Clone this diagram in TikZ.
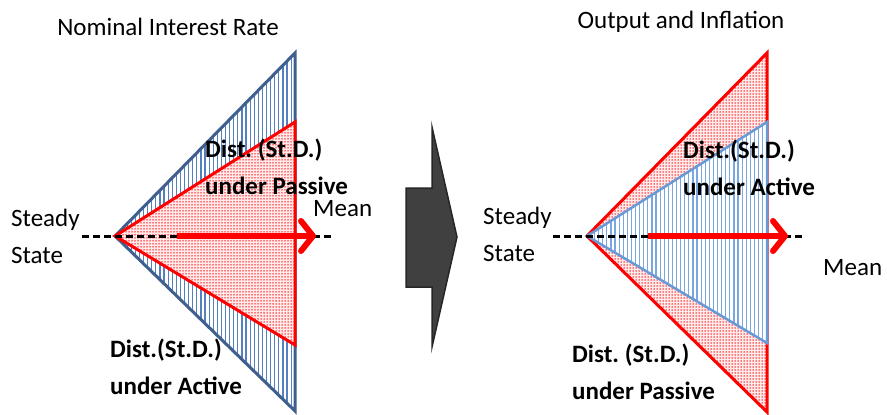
\documentclass[tikz,border=0pt]{standalone}
\usepackage{fontspec}
\setmainfont{Carlito}
\usetikzlibrary{arrows.meta, patterns.meta}
\definecolor{edgeblue}{HTML}{3F5F8E}
\definecolor{lineblue}{HTML}{5580C0}
\definecolor{edgelight}{HTML}{6A9AD6}
\definecolor{linelight}{HTML}{7AA6E2}
\definecolor{bigarrow}{HTML}{404040}
\frenchspacing

\begin{document}
\begin{tikzpicture}[
        x=1pt, y=-1pt,
        title/.style={font=\fontsize{25}{30}\selectfont, inner sep=0pt},
        lbl/.style={font=\fontsize{25}{37}\selectfont, align=left, inner sep=0pt, anchor=west},
        dist/.style={lbl, font=\fontsize{25}{37}\selectfont\bfseries},
        hatchdark/.style={draw=edgeblue, line width=3pt, preaction={fill=white}, pattern={Lines[angle=90, distance=4.1pt, line width=1.2pt]}, pattern color=lineblue},
        hatchlight/.style={draw=edgelight, line width=2.5pt, preaction={fill=white}, pattern={Lines[angle=90, distance=4.1pt, line width=1.2pt]}, pattern color=linelight},
        dotted red/.style={draw=red, line width=3pt, preaction={fill=red!8}, pattern={Dots[radius=0.75pt, distance=3pt]}, pattern color=red},
        axis/.style={dashed, dash pattern=on 7pt off 4pt, line width=3pt, draw=black},
        meanarrow/.style={draw=red, line width=6pt, -{Straight Barb[length=12pt, width=30pt, line width=6pt, round]}}
    ]
        \useasboundingbox (0,0) rectangle (887,415);
        % left panel
        \coordinate (apexL) at (115,236);
        \coordinate (tipL) at (316,236);
        \path[hatchdark] (apexL) -- (295,53) -- (295,411) -- cycle;
        \path[dotted red] (apexL) -- (295,122) -- (295,345) -- cycle;
        \coordinate (axisL) at (82,236);
        \coordinate (axisLend) at (331,236);
        \draw[axis] (axisL) -- (axisLend);
        \coordinate (startL) at (177,236);
        \draw[meanarrow] (startL) -- (tipL);
        \node[title] (titleL) at (168,27) {Nominal Interest Rate};
        \node[lbl] (steadyL) at (11,236) {Steady\\State};
        \node[lbl] (meanL) at (313,209) {Mean};
        \node[dist] (passiveL) at (205,167) {Dist. (St.D.)\\under Passive};
        \node[dist] (activeL) at (110,367) {Dist.(St.D.)\\under Active};
        % big arrow
        \path[fill=bigarrow, draw=black!85, line width=1.5pt] (406,188) -- (432,188) -- (432,127) -- (457,237) -- (432,347) -- (432,287) -- (406,287) -- cycle;
        % right panel
        \coordinate (apexR) at (587,236);
        \coordinate (tipR) at (788,236);
        \path[dotted red] (apexR) -- (767,53) -- (767,412) -- cycle;
        \path[hatchlight] (apexR) -- (767,122) -- (767,343) -- cycle;
        \coordinate (axisR) at (553,236);
        \coordinate (axisRend) at (803,236);
        \draw[axis] (axisR) -- (axisRend);
        \coordinate (startR) at (648,236);
        \draw[meanarrow] (startR) -- (tipR);
        \node[title] (titleR) at (681,22) {Output and Inflation};
        \node[lbl] (steadyR) at (483,234) {Steady\\State};
        \node[lbl] (meanR) at (823,268) {Mean};
        \node[dist] (activeR) at (683,168) {Dist.(St.D.)\\under Active};
        \node[dist] (passiveR) at (572,372) {Dist. (St.D.)\\under Passive};
    \end{tikzpicture}
\end{document}
